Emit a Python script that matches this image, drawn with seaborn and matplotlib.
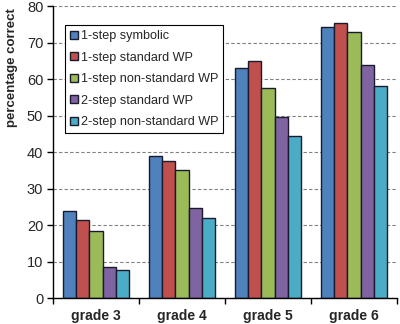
import matplotlib
matplotlib.use("Agg")
import matplotlib.pyplot as plt
import seaborn as sns
import pandas as pd

grades = ["grade 3", "grade 4", "grade 5", "grade 6"]
series = ["1-step symbolic", "1-step standard WP", "1-step non-standard WP",
          "2-step standard WP", "2-step non-standard WP"]
sym1 = [23.8, 39.0, 63.0, 74.2]
std1 = [21.4, 37.7, 64.9, 75.5]
nonstd1 = [18.4, 35.1, 57.6, 73.0]
std2 = [8.5, 24.6, 49.7, 63.8]
nonstd2 = [7.8, 22.0, 44.4, 58.2]
colors = ["#4F81BD", "#C0504D", "#9BBB59", "#8064A2", "#4BACC6"]

rows = []
for s, vals in zip(series, [sym1, std1, nonstd1, std2, nonstd2]):
    for g, v in zip(grades, vals):
        rows.append({"grade": g, "series": s, "value": v})
df = pd.DataFrame(rows)

sns.set_style("white")
plt.rcParams["font.family"] = ["Liberation Sans", "DejaVu Sans"]

fig = plt.figure(figsize=(4.0, 3.24), dpi=100)
ax = fig.add_axes([0.1325, 0.080, 0.86, 0.901])

sns.barplot(data=df, x="grade", y="value", hue="series", order=grades,
            hue_order=series, palette=colors, width=0.77, gap=0,
            edgecolor="#1a1a2e", linewidth=1.0, saturation=1, ax=ax, legend=True)

ax.set_ylim(0, 80)
ax.set_xlim(-0.5, 3.5)
ax.set_yticks(range(0, 81, 10))
ax.yaxis.grid(True, linestyle=(0, (3, 2)), color="#808080", linewidth=0.8)
ax.set_axisbelow(True)
for sp in ["top", "right"]:
    ax.spines[sp].set_visible(False)
for sp in ["left", "bottom"]:
    ax.spines[sp].set_color("black")
    ax.spines[sp].set_linewidth(1.0)
ax.tick_params(axis="y", direction="out", length=4, width=1, color="black",
               labelsize=10.5, left=True, pad=3)
ax.set_xticks([-0.5, 0.5, 1.5, 2.5, 3.5], minor=True)
ax.tick_params(axis="x", which="minor", direction="out", length=4, width=1,
               color="black", bottom=True)
ax.tick_params(axis="x", which="major", length=0, labelsize=10, pad=8)
for lbl in ax.get_xticklabels():
    lbl.set_fontweight("bold")
ax.set_xlabel("")
ax.set_ylabel("percentage correct", fontweight="bold", fontsize=9.5)
ax.yaxis.set_label_coords(-0.103, 0.79)

leg = ax.legend(loc="upper left", bbox_to_anchor=(0.035, 0.935), fontsize=9.1,
                frameon=True, fancybox=False, edgecolor="black", framealpha=1,
                handlelength=0.6, handleheight=0.6, handletextpad=0.25,
                labelspacing=0.75, borderpad=0.4, borderaxespad=0)
leg.get_frame().set_linewidth(0.8)

fig.savefig("out.png", dpi=100)
